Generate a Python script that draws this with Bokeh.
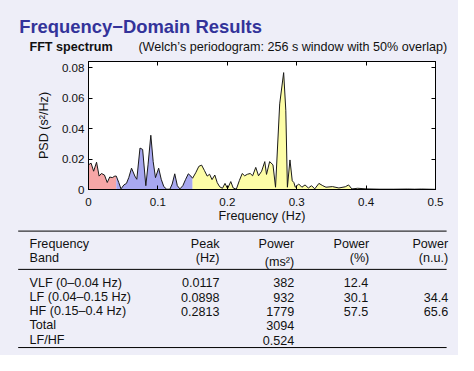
import numpy as np
from bokeh.plotting import figure
from bokeh.layouts import column
from bokeh.models import Range1d, FixedTicker, LinearAxis
from bokeh.embed import file_html
from bokeh.resources import INLINE
from bokeh.core.properties import value

# ---------------- data ----------------
title_text = "Frequency\u2212Domain Results"
subtitle_bold = "FFT spectrum"
subtitle_text = "(Welch\u2019s periodogram: 256 s window with 50% overlap)"

freq = [0.0000, 0.0037, 0.0074, 0.0116, 0.0153, 0.0186, 0.0230, 0.0270, 0.0306, 0.0343,
        0.0380, 0.0400, 0.0436, 0.0468, 0.0510, 0.0547, 0.0580, 0.0620, 0.0668, 0.0696,
        0.0742, 0.0780, 0.0826, 0.0858, 0.0898, 0.0932, 0.0965, 0.1011, 0.1048, 0.1085,
        0.1127, 0.1173, 0.1206, 0.1243, 0.1280, 0.1317, 0.1359, 0.1400, 0.1438, 0.1475,
        0.1500, 0.1545, 0.1590, 0.1630, 0.1670, 0.1710, 0.1745, 0.1780, 0.1820, 0.1855,
        0.1890, 0.1930, 0.1967, 0.2004, 0.2050, 0.2085, 0.2130, 0.2175, 0.2215, 0.2250,
        0.2290, 0.2330, 0.2365, 0.2410, 0.2450, 0.2495, 0.2540, 0.2565, 0.2610, 0.2658,
        0.2695, 0.2755, 0.2812, 0.2843, 0.2866, 0.2903, 0.2936, 0.2959, 0.2980, 0.3029,
        0.3075, 0.3120, 0.3168, 0.3214, 0.3260, 0.3320, 0.3376, 0.3422, 0.3515, 0.3608,
        0.3700, 0.3748, 0.3794, 0.3880, 0.4000, 0.4100, 0.4200, 0.4400, 0.4600, 0.4700,
        0.4800, 0.5000]
psd = [0.0162, 0.0173, 0.0120, 0.0179, 0.0088, 0.0105, 0.0095, 0.0046, 0.0082, 0.0078,
       0.0088, 0.0088, 0.0046, 0.0004, 0.0030, 0.0040, 0.0078, 0.0140, 0.0088, 0.0067,
       0.0272, 0.0263, 0.0025, 0.0162, 0.0356, 0.0183, 0.0078, 0.0140, 0.0067, 0.0019,
       0.0002, 0.0002, 0.0036, 0.0103, 0.0025, 0.0004, 0.0025, 0.0067, 0.0103, 0.0088,
       0.0074, 0.0110, 0.0152, 0.0160, 0.0125, 0.0088, 0.0100, 0.0065, 0.0095, 0.0045,
       0.0018, 0.0008, 0.0040, 0.0006, 0.0052, 0.0010, 0.0002, 0.0060, 0.0105, 0.0090,
       0.0100, 0.0105, 0.0090, 0.0145, 0.0090, 0.0120, 0.0183, 0.0099, 0.0183, 0.0162,
       0.0015, 0.0562, 0.0767, 0.0520, 0.0015, 0.0194, 0.0057, 0.0046, 0.0015, 0.0036,
       0.0015, 0.0030, 0.0010, 0.0025, 0.0004, 0.0040, 0.0025, 0.0015, 0.0019, 0.0010,
       0.0018, 0.0030, 0.0004, 0.0008, 0.0004, 0.0003, 0.0002, 0.0002, 0.0003, 0.0002,
       0.0003, 0.0001]

band_names = ["VLF", "LF", "HF"]
band_lo = [0.0, 0.04, 0.15]
band_hi = [0.04, 0.15, 0.40]
band_colors = ["#f6a6a6", "#a8a8f0", "#fdfda6"]

x_ticks = [0.0, 0.1, 0.2, 0.3, 0.4, 0.5]
x_tick_labels = ["0", "0.1", "0.2", "0.3", "0.4", "0.5"]
y_ticks = [0.0, 0.02, 0.04, 0.06, 0.08]
y_tick_labels = ["0", "0.02", "0.04", "0.06", "0.08"]

col_head1 = ["Frequency", "Peak", "Power", "Power", "Power"]
col_head2 = ["Band", "(Hz)", "(ms\u00b2)", "(%)", "(n.u.)"]
row_bands = ["VLF (0\u20130.04 Hz)", "LF (0.04\u20130.15 Hz)", "HF (0.15\u20130.4 Hz)", "Total", "LF/HF"]
row_peak = ["0.0117", "0.0898", "0.2813", "", ""]
row_power = ["382", "932", "1779", "3094", "0.524"]
row_pct = ["12.4", "30.1", "57.5", "", ""]
row_nu = ["", "34.4", "65.6", "", ""]

# ---------------- style ----------------
BG = "#eeeef8"
TITLE_C = "#33339a"
FONT = "Liberation Sans"
TXT = "#111111"
W, H = 458, 355            # layout size (fits window minus 8px margins)
RW, RH = 474.0, 371.0      # design canvas the layout represents
SY = H / RH

H_HEAD, H_SPEC = 54, 172
H_TAB = H - H_HEAD - H_SPEC

def blank(height, top_px):
    f = figure(width=W, height=height, x_range=Range1d(0, RW),
               y_range=Range1d((top_px + height) / SY, top_px / SY),
               x_axis_location=None, y_axis_location=None, toolbar_location=None,
               output_backend="svg", min_border=0, min_border_left=0, min_border_right=0,
               min_border_top=0, min_border_bottom=0, frame_align=False)
    f.grid.visible = False
    f.outline_line_color = None
    f.background_fill_color = BG
    f.border_fill_color = BG
    return f

# ---------------- header ----------------
h = blank(H_HEAD, 0)
h.text(x=[19.3], y=[26.7], text=[title_text], text_font=value(FONT), text_font_size="18.4px",
       text_font_style="bold", text_color=TITLE_C, text_baseline="alphabetic")
h.text(x=[30], y=[48.3], text=[subtitle_bold], text_font=value(FONT), text_font_size="12.6px",
       text_font_style="bold", text_color=TXT, text_baseline="alphabetic")
h.text(x=[142.7], y=[48.3], text=[subtitle_text], text_font=value(FONT), text_font_size="12.6px",
       text_color=TXT, text_baseline="alphabetic")

# ---------------- spectrum ----------------
p = figure(width=W, height=H_SPEC, x_range=Range1d(0, 0.5), y_range=Range1d(0, 0.084),
           toolbar_location=None, output_backend="svg", frame_align=False,
           min_border_left=88, min_border_right=23, min_border_top=7, min_border_bottom=37)
p.grid.visible = False
p.background_fill_color = "white"
p.border_fill_color = BG
p.outline_line_color = "black"
p.outline_line_width = 1

fa = np.array(freq)
pa = np.array(psd)
for lo, hi, c in zip(band_lo, band_hi, band_colors):
    m = (fa >= lo - 1e-9) & (fa <= hi + 1e-9)
    p.varea(x=fa[m], y1=np.zeros(m.sum()), y2=pa[m], fill_color=c)
p.line(fa, pa, line_color="#1a1a1a", line_width=1)

def style_axis(ax, ticks, labels, show):
    ax.ticker = FixedTicker(ticks=ticks)
    ax.major_label_overrides = {t: l for t, l in zip(ticks, labels)}
    ax.major_tick_in = 4
    ax.major_tick_out = 0
    ax.minor_tick_line_color = None
    ax.axis_line_color = "black"
    ax.major_tick_line_color = "black"
    ax.major_label_text_font = FONT
    ax.major_label_text_color = TXT
    ax.axis_label_text_font = FONT
    ax.axis_label_text_font_style = "normal"
    ax.axis_label_text_color = TXT
    if show:
        ax.major_label_text_font_size = "11.6px"
        ax.axis_label_text_font_size = "12.6px"
    else:
        ax.major_label_text_font_size = "0px"
        ax.major_label_standoff = 0

style_axis(p.xaxis[0], x_ticks, x_tick_labels, True)
p.xaxis[0].axis_label = "Frequency (Hz)"
p.xaxis[0].major_label_standoff = 8
p.xaxis[0].axis_label_standoff = 0
style_axis(p.yaxis[0], y_ticks, y_tick_labels, True)
p.yaxis[0].axis_label = "PSD (s\u00b2/Hz)"
p.yaxis[0].major_label_standoff = 4
p.yaxis[0].axis_label_standoff = 8

ax_top = LinearAxis()
style_axis(ax_top, x_ticks, ["" for _ in x_ticks], False)
p.add_layout(ax_top, "above")
ax_right = LinearAxis()
style_axis(ax_right, y_ticks, ["" for _ in y_ticks], False)
p.add_layout(ax_right, "right")

# ---------------- table ----------------
t = blank(H_TAB, H_HEAD + H_SPEC)
rule_y = [241, 281, 362.7]
t.segment(x0=[18.3] * 3, x1=[461.7] * 3, y0=rule_y, y1=rule_y, line_color="black", line_width=1)

head_x = [30, 226.7, 304, 381.7, 463.3]
for i, (a, b) in enumerate(zip(col_head1, col_head2)):
    align = "left" if i == 0 else "right"
    t.text(x=[head_x[i]], y=[254], text=[a], text_font=value(FONT), text_font_size="12.6px",
           text_color=TXT, text_align=align, text_baseline="alphabetic")
    t.text(x=[head_x[i]], y=[273.5 if i == 2 else 269], text=[b], text_font=value(FONT),
           text_font_size="12.6px", text_color=TXT, text_align=align, text_baseline="alphabetic")

row_y = [295, 310, 324.5, 339.5, 355]
cols = [row_bands, row_peak, row_power, row_pct, row_nu]
col_x = [30, 226.7, 304, 380.5, 463.3]
for i, colvals in enumerate(cols):
    align = "left" if i == 0 else "right"
    t.text(x=[col_x[i]] * len(row_y), y=row_y, text=colvals, text_font=value(FONT),
           text_font_size="12.6px", text_color=TXT, text_align=align, text_baseline="alphabetic")

layout = column(h, p, t, spacing=0)
layout.styles = {"background-color": BG}
open("out.html", "w").write(file_html(layout, INLINE))
